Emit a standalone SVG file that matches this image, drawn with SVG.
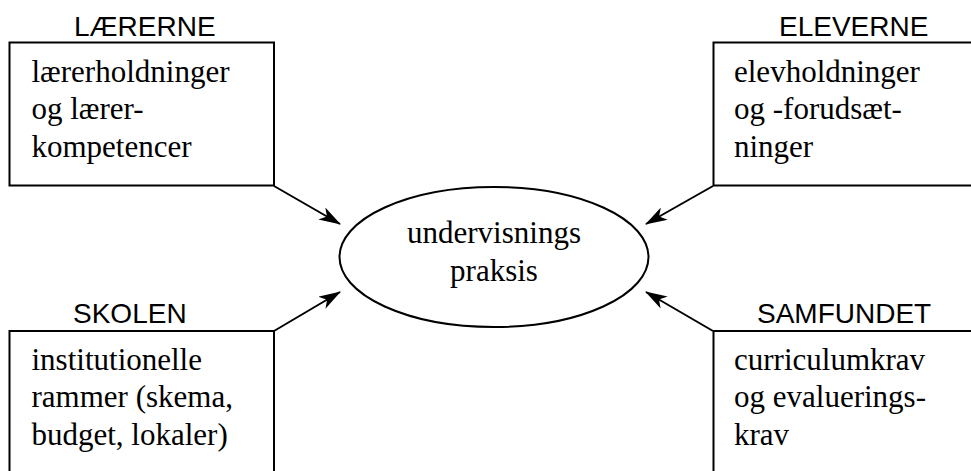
<svg xmlns="http://www.w3.org/2000/svg" width="971" height="471" viewBox="0 0 971 471">
<style>
.box{fill:#fff;stroke:#000;stroke-width:2}
.hd{font-family:"Liberation Sans",Arial,sans-serif;font-size:28px;fill:#000}
.tx{font-family:"Liberation Serif","Times New Roman",serif;font-size:31px;fill:#000}
.con{stroke:#000;stroke-width:2;fill:none;marker-end:url(#ah)}
</style>
<defs>
<marker id="ah" viewBox="0 0 22 14" refX="21" refY="7" markerWidth="22" markerHeight="14" markerUnits="userSpaceOnUse" orient="auto">
<path d="M0,0 L22,7 L0,14 L6,7 Z" fill="#000"/>
</marker>
</defs>
<rect width="971" height="471" fill="#fff"/>
<g id="connectors">
<line class="con" x1="274" y1="186" x2="340" y2="224"/>
<line class="con" x1="713" y1="186" x2="646" y2="224"/>
<line class="con" x1="274" y1="331" x2="340" y2="292"/>
<line class="con" x1="713" y1="331" x2="646" y2="292"/>
</g>
<g id="laererne">
<text class="hd" x="74" y="36">LÆRERNE</text>
<rect class="box" x="9.5" y="42.5" width="264.5" height="143"/>
<text class="tx" x="31.5" y="81.5">lærerholdninger</text>
<text class="tx" x="31.5" y="119">og lærer-</text>
<text class="tx" x="31.5" y="156.5">kompetencer</text>
</g>
<g id="eleverne">
<text class="hd" x="779" y="36">ELEVERNE</text>
<rect class="box" x="713.5" y="42.5" width="270" height="143"/>
<text class="tx" x="734" y="81.5">elevholdninger</text>
<text class="tx" x="734" y="119">og -forudsæt-</text>
<text class="tx" x="734" y="156.5">ninger</text>
</g>
<g id="skolen">
<text class="hd" x="73" y="323">SKOLEN</text>
<rect class="box" x="9.5" y="331" width="264.5" height="160"/>
<text class="tx" x="31.5" y="369.5">institutionelle</text>
<text class="tx" x="31.5" y="407">rammer (skema,</text>
<text class="tx" x="31.5" y="444.5">budget, lokaler)</text>
</g>
<g id="samfundet">
<text class="hd" x="757" y="323">SAMFUNDET</text>
<rect class="box" x="713.5" y="331" width="270" height="160"/>
<text class="tx" x="734" y="369.5">curriculumkrav</text>
<text class="tx" x="734" y="407">og evaluerings-</text>
<text class="tx" x="734" y="444.5">krav</text>
</g>
<g id="praksis">
<ellipse cx="494" cy="257" rx="154.5" ry="70" fill="#fff" stroke="#000" stroke-width="2"/>
<text class="tx" x="494" y="243" text-anchor="middle">undervisnings</text>
<text class="tx" x="494" y="280.5" text-anchor="middle">praksis</text>
</g>
</svg>
